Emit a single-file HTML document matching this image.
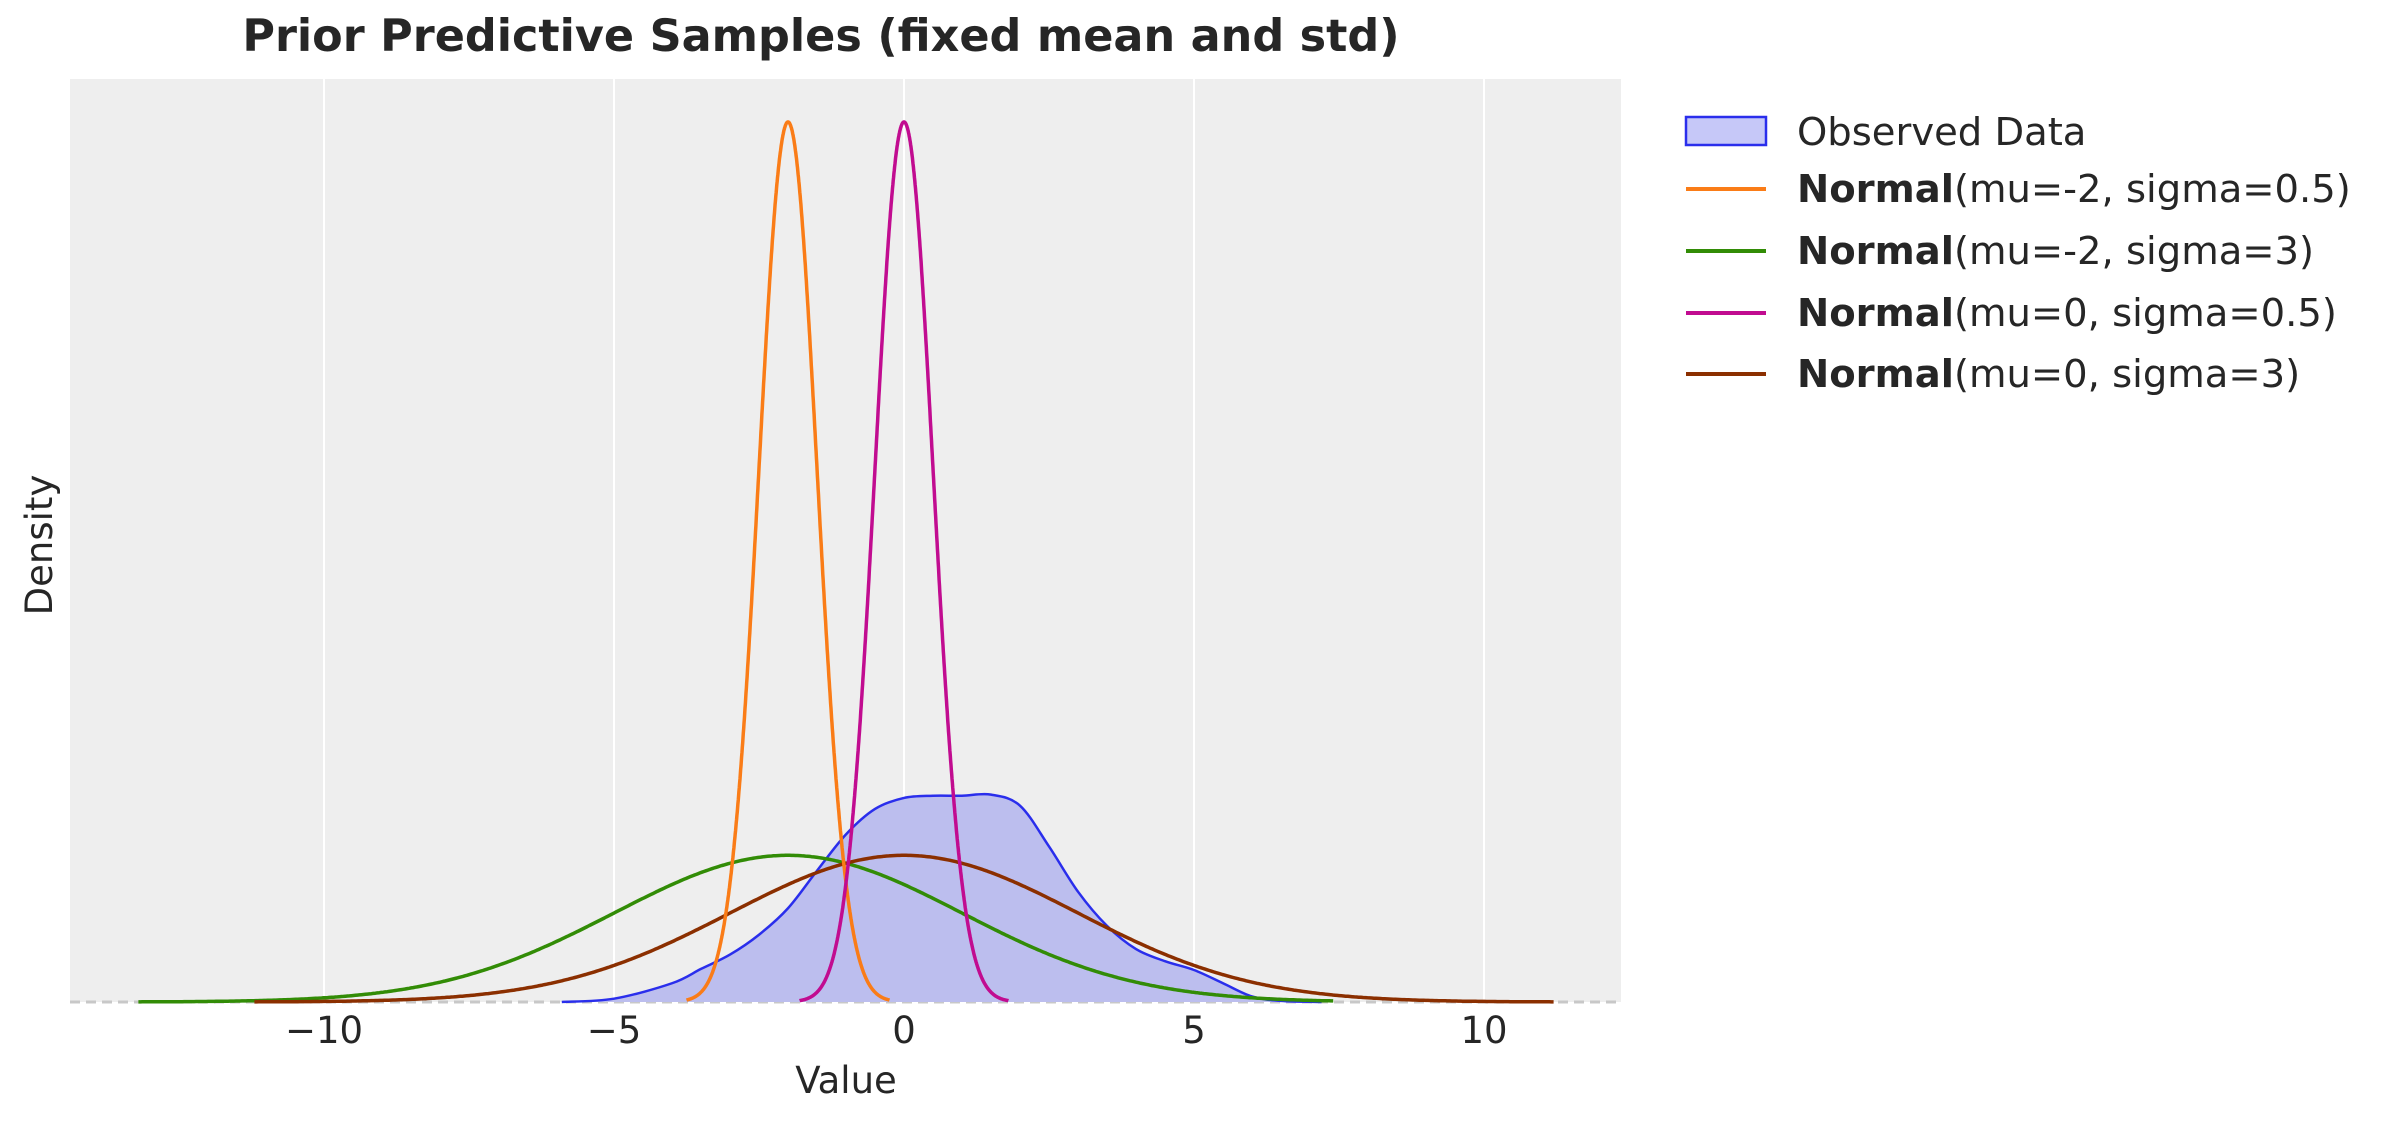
<!DOCTYPE html>
<html><head><meta charset="utf-8"><style>
html,body{margin:0;padding:0;background:#fff;}
svg{display:block;font-family:"DejaVu Sans","Liberation Sans",sans-serif;}
</style></head><body>
<svg id="s" width="2389" height="1122" viewBox="0 0 2389 1122" xmlns="http://www.w3.org/2000/svg">
<rect x="70" y="79" width="1551" height="923" fill="#eeeeee"/>
<g stroke="#ffffff" stroke-width="2">
<line x1="324" y1="79" x2="324" y2="1002"/>
<line x1="614" y1="79" x2="614" y2="1002"/>
<line x1="904" y1="79" x2="904" y2="1002"/>
<line x1="1194" y1="79" x2="1194" y2="1002"/>
<line x1="1484" y1="79" x2="1484" y2="1002"/>
</g>
<line x1="70" y1="1002" x2="1621" y2="1002" stroke="#c8c8c8" stroke-width="3" stroke-dasharray="10,6"/>
<g id="curves"></g>
<g font-size="37" fill="#262626" text-anchor="middle">
<text x="324" y="1043">−10</text>
<text x="614" y="1043">−5</text>
<text x="904" y="1043">0</text>
<text x="1194" y="1043">5</text>
<text x="1484" y="1043">10</text>
<text x="846" y="1093">Value</text>
<text transform="translate(52,545) rotate(-90)">Density</text>
<text x="821" y="51" font-size="44.5" font-weight="bold">Prior Predictive Samples (fixed mean and std)</text>
</g>
<rect x="1686" y="117" width="80" height="28" fill="#c6c8f8" stroke="#2a2eec" stroke-width="2.5"/>
<g stroke-width="4">
<line x1="1686" y1="189" x2="1766" y2="189" stroke="#fa7c17"/>
<line x1="1686" y1="251" x2="1766" y2="251" stroke="#328c06"/>
<line x1="1686" y1="313" x2="1766" y2="313" stroke="#c10c90"/>
<line x1="1686" y1="374" x2="1766" y2="374" stroke="#8b2f00"/>
</g>
<g font-size="38.5" fill="#262626">
<text x="1797" y="145">Observed Data</text>
<text x="1797" y="202"><tspan font-weight="bold">Normal</tspan>(mu=-2, sigma=0.5)</text>
<text x="1797" y="264"><tspan font-weight="bold">Normal</tspan>(mu=-2, sigma=3)</text>
<text x="1797" y="326"><tspan font-weight="bold">Normal</tspan>(mu=0, sigma=0.5)</text>
<text x="1797" y="387"><tspan font-weight="bold">Normal</tspan>(mu=0, sigma=3)</text>
</g>
</svg>
<script>
(function(){
var X=function(v){return 904+58*v;}, Y=function(d){return 1002-1103*d;};
var g=document.getElementById('curves'), ns="http://www.w3.org/2000/svg";
function add(d,attrs){var p=document.createElementNS(ns,'path');p.setAttribute('d',d);for(var k in attrs)p.setAttribute(k,attrs[k]);g.appendChild(p);}
var pts=[[-5.9,0],[-5,0.003],[-4,0.017],[-3.5,0.03],[-3,0.043],[-2.5,0.061],[-2,0.085],[-1.5,0.119],[-1,0.152],[-0.5,0.175],[0,0.185],[0.5,0.187],[1,0.187],[1.5,0.188],[2,0.178],[2.5,0.141],[3,0.1],[3.5,0.069],[4,0.048],[4.5,0.037],[5,0.029],[5.5,0.017],[6,0.005],[6.5,0.001],[7.2,0]];
var d="M"+X(pts[0][0])+","+Y(pts[0][1]);
for(var i=0;i<pts.length-1;i++){
 var p0=pts[Math.max(i-1,0)],p1=pts[i],p2=pts[i+1],p3=pts[Math.min(i+2,pts.length-1)];
 var c1x=X(p1[0])+(X(p2[0])-X(p0[0]))/6,c1y=Y(p1[1])+(Y(p2[1])-Y(p0[1]))/6;
 var c2x=X(p2[0])-(X(p3[0])-X(p1[0]))/6,c2y=Y(p2[1])-(Y(p3[1])-Y(p1[1]))/6;
 d+=" C"+c1x+","+c1y+" "+c2x+","+c2y+" "+X(p2[0])+","+Y(p2[1]);
}
add(d+" Z",{fill:"#bcbeee",stroke:"none"});
add(d,{fill:"none",stroke:"#2a2eec","stroke-width":2.5});
function normal(mu,s,a,b,col){
 var d="";for(var k=0;k<=600;k++){var x=a+(b-a)*k/600;var v=Math.exp(-0.5*Math.pow((x-mu)/s,2))/(s*Math.sqrt(2*Math.PI));d+=(k?"L":"M")+X(x).toFixed(1)+","+Y(v).toFixed(1);}
 add(d,{fill:"none",stroke:col,"stroke-width":3.5,"stroke-linejoin":"round"});
}
normal(-2,3,-13.2,7.4,"#328c06");
normal(0,3,-11.2,11.2,"#8b2f00");
normal(-2,0.5,-3.75,-0.25,"#fa7c17");
normal(0,0.5,-1.8,1.8,"#c10c90");
})();
</script>
</body></html>
